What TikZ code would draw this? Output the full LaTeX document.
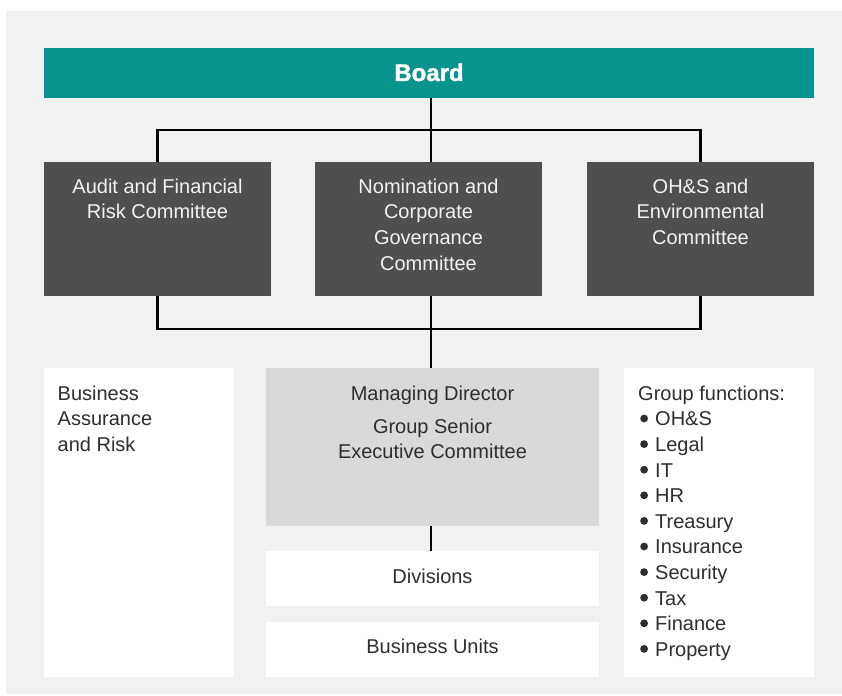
\documentclass[tikz,border=0pt]{standalone}
\usepackage{fontspec}
\setmainfont{Liberation Sans}
\definecolor{boardteal}{HTML}{07948F}
\definecolor{committeegray}{HTML}{4F4F4F}
\definecolor{execgray}{HTML}{D9D9D9}
\definecolor{panelgray}{HTML}{F1F1F1}
\definecolor{inkdark}{HTML}{2E2E2E}
\definecolor{inklight}{HTML}{F2F2F2}
\newcommand\orgtext{\fontsize{20}{25.6}\selectfont}
% round list marker, 8pt across, centred 7.3pt above the baseline
\newcommand\orgdot{\tikz[baseline=0pt]\fill[inkdark] (4pt,7.3pt) circle (3.9pt);}
\newcommand\orgitem[1]{\makebox[17pt][l]{\hspace{2pt}\orgdot}#1}
\begin{document}
\begin{tikzpicture}[x=1pt,y=-1pt,
  cell/.style 2 args={anchor=north west, inner sep=0pt, outer sep=0pt,
    minimum width=#1pt, minimum height=#2pt},
  committee/.style={fill=committeegray},
  whitebox/.style={fill=white},
  label/.style={inner sep=0pt, font=\orgtext, align=center, anchor=north},
  link/.style={draw=black, line width=2.2pt, line join=miter}]

% page and panel
\useasboundingbox (0,0) rectangle (842,695);
\fill[panelgray] (6,11) rectangle (842,694);

% board
\node[cell={770}{50}, fill=boardteal] (board) at (44,48) {};
\node[inner sep=0pt, anchor=base, text=white,
  font={\fontsize{24}{28}\selectfont\bfseries\addfontfeature{FakeBold=1.5}}]
  (boardlbl) at (429,81) {Board};

% committees
\node[cell={227}{134}, committee] (audit) at (44,162) {};
\node[cell={227}{134}, committee] (nom) at (315,162) {};
\node[cell={227}{134}, committee] (ohs) at (587,162) {};
\node[label, text=inklight] (auditlbl) at (157.5,175.08)
  {\strut Audit and Financial\\Risk Committee};
\node[label, text=inklight] (nomlbl) at (428.5,175.08)
  {\strut Nomination and\\Corporate\\Governance\\Committee};
\node[label, text=inklight] (ohslbl) at (700.5,175.08)
  {\strut OH\&S and\\Environmental\\Committee};

% management level
\node[cell={190}{309}, whitebox] (assur) at (44,368) {};
\node[cell={333}{158}, fill=execgray] (md) at (266,368) {};
\node[cell={333}{55}, whitebox] (div) at (266,551) {};
\node[cell={333}{55}, whitebox] (units) at (266,622) {};
\node[cell={190}{309}, whitebox] (funcs) at (624,368) {};

\node[label, text=inkdark, anchor=north west, align=left] (assurlbl) at (57.5,382.08)
  {\strut Business\\Assurance\\and Risk};
\node[label, text=inkdark] (mdlbl) at (432.5,382.08)
  {\strut Managing Director\\[7.4pt]Group Senior\\Executive Committee};
\node[inner sep=0pt, font=\orgtext, text=inkdark, anchor=base] (divlbl) at (432.5,583) {Divisions};
\node[inner sep=0pt, font=\orgtext, text=inkdark, anchor=base] (unitslbl) at (432.5,653) {Business Units};
\node[label, text=inkdark, anchor=north west, align=left] (funcslbl) at (638,382.08)
  {\strut Group functions:\\\orgitem{OH\&S}\\\orgitem{Legal}\\\orgitem{IT}\\\orgitem{HR}\\
   \orgitem{Treasury}\\\orgitem{Insurance}\\\orgitem{Security}\\\orgitem{Tax}\\
   \orgitem{Finance}\\\orgitem{Property}};

% connectors
\coordinate (topbus) at (431,130);
\coordinate (botbus) at (431,329);
\draw[link] (board.south -| topbus) -- (nom.north -| topbus);
\draw[link] (audit.north) |- (topbus) -| (ohs.north);
\draw[link] (audit.south) |- (botbus) -| (ohs.south);
\draw[link] (nom.south -| botbus) -- (md.north -| botbus);
\draw[link] (md.south -| botbus) -- (div.north -| botbus);
\end{tikzpicture}
\end{document}
